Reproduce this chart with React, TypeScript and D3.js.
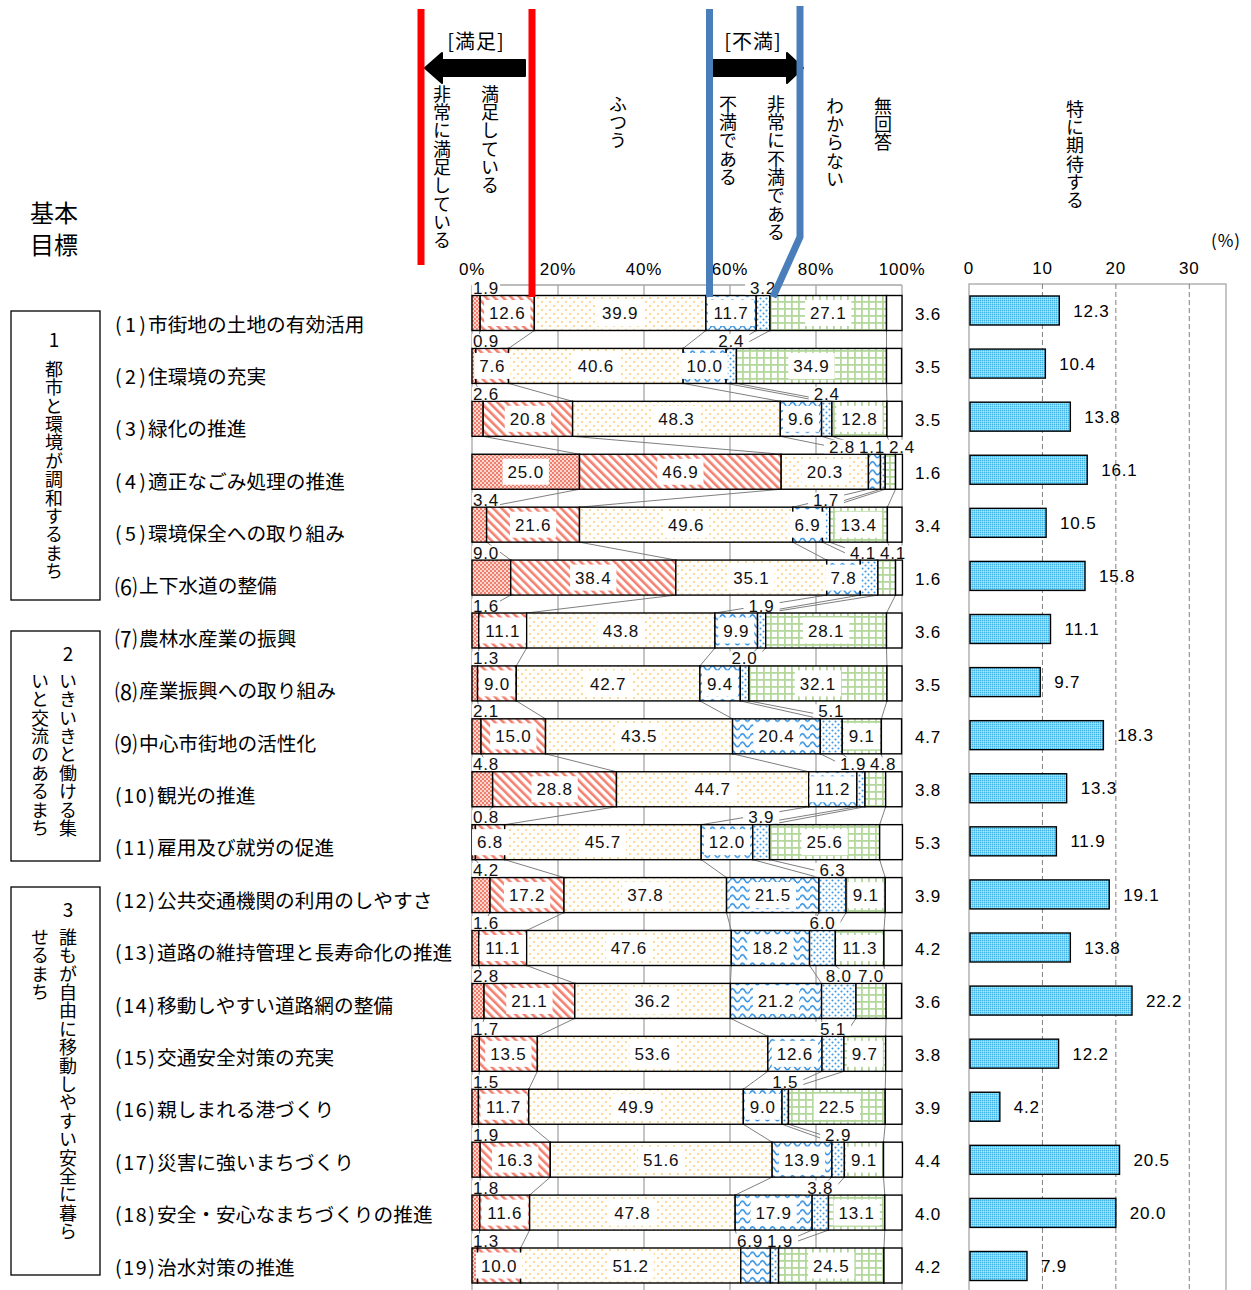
import React from "react";
import * as d3 from "d3";

const FONT = "'Noto Sans CJK JP', 'Noto Sans', sans-serif";
const NFONT = "'Liberation Sans', Arial, sans-serif";

// ---- data ----
const itemPrefixes = ["(1)", "(2)", "(3)", "(4)", "(5)", "⑹", "⑺", "⑻", "⑼", "(10)", "(11)", "(12)", "(13)", "(14)", "(15)", "(16)", "(17)", "(18)", "(19)"];
const itemNames = [
  "市街地の土地の有効活用",
  "住環境の充実",
  "緑化の推進",
  "適正なごみ処理の推進",
  "環境保全への取り組み",
  "上下水道の整備",
  "農林水産業の振興",
  "産業振興への取り組み",
  "中心市街地の活性化",
  "観光の推進",
  "雇用及び就労の促進",
  "公共交通機関の利用のしやすさ",
  "道路の維持管理と長寿命化の推進",
  "移動しやすい道路網の整備",
  "交通安全対策の充実",
  "親しまれる港づくり",
  "災害に強いまちづくり",
  "安全・安心なまちづくりの推進",
  "治水対策の推進",
];
const verySatisfied = [1.9, 0.9, 2.6, 25.0, 3.4, 9.0, 1.6, 1.3, 2.1, 4.8, 0.8, 4.2, 1.6, 2.8, 1.7, 1.5, 1.9, 1.8, 1.3];
const satisfied = [12.6, 7.6, 20.8, 46.9, 21.6, 38.4, 11.1, 9.0, 15.0, 28.8, 6.8, 17.2, 11.1, 21.1, 13.5, 11.7, 16.3, 11.6, 10.0];
const neutral = [39.9, 40.6, 48.3, 20.3, 49.6, 35.1, 43.8, 42.7, 43.5, 44.7, 45.7, 37.8, 47.6, 36.2, 53.6, 49.9, 51.6, 47.8, 51.2];
const dissatisfied = [11.7, 10.0, 9.6, 2.8, 6.9, 7.8, 9.9, 9.4, 20.4, 11.2, 12.0, 21.5, 18.2, 21.2, 12.6, 9.0, 13.9, 17.9, 6.9];
const veryDissatisfied = [3.2, 2.4, 2.4, 1.1, 1.7, 4.1, 1.9, 2.0, 5.1, 1.9, 3.9, 6.3, 6.0, 8.0, 5.1, 1.5, 2.9, 3.8, 1.9];
const dontKnow = [27.1, 34.9, 12.8, 2.4, 13.4, 4.1, 28.1, 32.1, 9.1, 4.8, 25.6, 9.1, 11.3, 7.0, 9.7, 22.5, 9.1, 13.1, 24.5];
const noAnswer = [3.6, 3.5, 3.5, 1.6, 3.4, 1.6, 3.6, 3.5, 4.7, 3.8, 5.3, 3.9, 4.2, 3.6, 3.8, 3.9, 4.4, 4.0, 4.2];
const expectation = [12.3, 10.4, 13.8, 16.1, 10.5, 15.8, 11.1, 9.7, 18.3, 13.3, 11.9, 19.1, 13.8, 22.2, 12.2, 4.2, 20.5, 20.0, 7.9];

const seriesNames = ["非常に満足している", "満足している", "ふつう", "不満である", "非常に不満である", "わからない", "無回答"];
const expectName = "特に期待する";
const leftTicks = [0, 20, 40, 60, 80, 100];
const rightTicks = [0, 10, 20, 30];
const groupNums = ["1", "2", "3"];
const groupCols = [["都市と環境が調和するまち"], ["いきいきと働ける集", "いと交流のあるまち"], ["誰もが自由に移動しやすい安全に暮ら", "せるまち"]];

const fills = ["url(#pVS)", "url(#pS)", "url(#pN)", "url(#pD)", "url(#pVD)", "url(#pDK)", "#ffffff"];

const LFS = 17;
const LSP = 0.8;
function textW(s: string, fs: number) {
  let w = 0;
  for (const c of s) w += (c === "." ? 0.278 * fs : 0.556 * fs) + LSP;
  return w;
}

function VText({ text, x, top, pitch, fs }: { text: string; x: number; top: number; pitch: number; fs: number }) {
  return (
    <text x={x} y={top} fontSize={fs} fontFamily={FONT} fill="#000" letterSpacing={pitch - fs}
      style={{ writingMode: "vertical-rl" as any }}>
      {text}
    </text>
  );
}

export default function App() {
  const W = 1251, H = 1290;
  const n = itemNames.length;
  const idx = d3.range(n);
  const xL = d3.scaleLinear().domain([0, 100]).range([472, 902]);
  const xR = d3.scaleLinear().domain([0, 35]).range([969, 1226]);
  const yRow = d3.scalePoint<number>().domain(idx).range([313, 1265.5]);
  const yLab = d3.scalePoint<number>().domain(idx).range([323, 1266]);
  const yRbar = d3.scalePoint<number>().domain(idx).range([310.5, 1266]);
  const barH = 35;
  const rBarH = 29;

  const table = idx.map((i) => ({
    0: verySatisfied[i], 1: satisfied[i], 2: neutral[i], 3: dissatisfied[i],
    4: veryDissatisfied[i], 5: dontKnow[i], 6: noAnswer[i],
  }));
  const stack = d3.stack<any>().keys(["0", "1", "2", "3", "4", "5", "6"])(table as any);

  // series lines
  const seriesLines: { x1: number; y1: number; x2: number; y2: number }[] = [];
  for (let i = 0; i < n - 1; i++) {
    for (let k = 0; k < 6; k++) {
      seriesLines.push({
        x1: xL(stack[k][i][1]), y1: yRow(i)! + barH / 2,
        x2: xL(stack[k][i + 1][1]), y2: yRow(i + 1)! - barH / 2,
      });
    }
  }

  // labels
  type Lab = { x: number; y: number; t: string; anchor: string; above: boolean };
  const labels: Lab[] = [];
  idx.forEach((i) => {
    const cy = yRow(i)!;
    const top = cy - barH / 2;
    const aboveY = top - 1.5;
    const above: { x: number; t: string }[] = [];
    for (let k = 0; k < 6; k++) {
      const [a, b] = stack[k][i];
      const v = b - a;
      const t = v.toFixed(1);
      const c = (xL(a) + xL(b)) / 2;
      let isAbove = false;
      if (k === 0) isAbove = v < 10;
      else if (k === 3) isAbove = v < 6.9 || i === n - 1;
      else if (k === 4) isAbove = true;
      else if (k === 5) isAbove = v < 8;
      if (k === 0 && isAbove) {
        labels.push({ x: xL(0) + 1, y: aboveY, t, anchor: "start", above: true });
      } else if (isAbove) {
        above.push({ x: c, t });
      } else {
        labels.push({ x: c, y: cy + 0.36 * LFS, t, anchor: "middle", above: false });
      }
    }
    const gap = 30;
    for (let it = 0; it < 60; it++) {
      for (let j = 1; j < above.length; j++) {
        const ov = gap - (above[j].x - above[j - 1].x);
        if (ov > 0) { above[j].x += ov / 2; above[j - 1].x -= ov / 2; }
      }
    }
    if (above.length) {
      const last = above[above.length - 1];
      if (last.x > xL(100)) last.x = xL(100);
      for (let j = above.length - 2; j >= 0; j--) above[j].x = Math.min(above[j].x, above[j + 1].x - gap);
    }
    above.forEach((a) => labels.push({ x: a.x, y: aboveY, t: a.t, anchor: "middle", above: true }));
  });

  // group box extents (layout)
  const boxes = [[311, 600], [631, 861], [887, 1275]];

  return (
    <div style={{ position: "absolute", left: 0, top: 0 }}>
      <svg width={W} height={H} viewBox={`0 0 ${W} ${H}`} style={{ display: "block", background: "#fff" }}>
        <defs>
          <pattern id="pVS" width="4" height="4" patternUnits="userSpaceOnUse">
            <rect width="4" height="4" fill="#fcd6cf" />
            <rect width="2" height="2" fill="#ef7f6d" />
            <rect x="2" y="2" width="2" height="2" fill="#ef7f6d" />
          </pattern>
          <pattern id="pS" width="6" height="6" patternUnits="userSpaceOnUse" patternTransform="rotate(-45)">
            <rect width="6" height="6" fill="#fff" />
            <rect width="2.6" height="6" fill="#f3806f" />
          </pattern>
          <pattern id="pN" width="8" height="8" patternUnits="userSpaceOnUse">
            <rect width="8" height="8" fill="#fffefa" />
            <circle cx="2" cy="2" r="1.05" fill="#fcd285" />
            <circle cx="6" cy="6" r="1.05" fill="#fcd285" />
          </pattern>
          <pattern id="pD" width="10" height="8.5" patternUnits="userSpaceOnUse">
            <rect width="10" height="8.5" fill="#fff" />
            <path d="M0,5 Q2.5,0.5 5,5 T10,5" fill="none" stroke="#2f8fe0" strokeWidth="1.6" />
          </pattern>
          <pattern id="pVD" width="6" height="6" patternUnits="userSpaceOnUse">
            <rect width="6" height="6" fill="#fff" />
            <circle cx="1.5" cy="1.5" r="1.05" fill="#3d97e2" />
            <circle cx="4.5" cy="4.5" r="1.05" fill="#3d97e2" />
          </pattern>
          <pattern id="pDK" width="7" height="7" patternUnits="userSpaceOnUse">
            <rect width="7" height="7" fill="#fff" />
            <rect width="1.8" height="7" fill="#b4d89c" />
            <rect width="7" height="1.8" fill="#b4d89c" />
          </pattern>
          <pattern id="pR" width="2" height="2" patternUnits="userSpaceOnUse">
            <rect width="2" height="2" fill="#7dd4f5" />
            <rect width="1" height="1" fill="#3fb3e6" />
            <rect x="1" y="1" width="1" height="1" fill="#a9e3f9" />
          </pattern>
        </defs>

        {/* title */}
        <text x={30} y={211} dominantBaseline="central" fontSize={24} fontFamily={FONT}>基本</text>
        <text x={30} y={243} dominantBaseline="central" fontSize={24} fontFamily={FONT}>目標</text>

        {/* header brackets */}
        <text x={476} y={40} textAnchor="middle" dominantBaseline="central" fontSize={20} fontFamily={FONT} letterSpacing={1}>[満足]</text>
        <text x={753} y={40} textAnchor="middle" dominantBaseline="central" fontSize={20} fontFamily={FONT} letterSpacing={1}>[不満]</text>
        {/* arrows */}
        <path d="M525,60 L442,60 L442,53 L425,68 L442,83 L442,76 L525,76 Z" fill="#000" stroke="#000" strokeWidth={2} strokeLinejoin="round" />
        <path d="M711,60 L787,60 L787,53 L803,68 L787,83 L787,76 L711,76 Z" fill="#000" stroke="#000" strokeWidth={2} strokeLinejoin="round" />

        {/* header vertical series names */}
        <VText text={seriesNames[0]} x={442} top={85} pitch={18.3} fs={18} />
        <VText text={seriesNames[1]} x={490} top={85} pitch={18.3} fs={18} />
        <VText text={seriesNames[2]} x={618} top={95} pitch={18.3} fs={18} />
        <VText text={seriesNames[3]} x={728} top={95} pitch={18.3} fs={18} />
        <VText text={seriesNames[4]} x={776} top={95} pitch={18.3} fs={18} />
        <VText text={seriesNames[5]} x={835} top={97} pitch={18.3} fs={18} />
        <VText text={seriesNames[6]} x={883} top={97} pitch={18.3} fs={18} />
        <VText text={expectName} x={1075} top={100} pitch={18.3} fs={18} />

        {/* left axis tick labels */}
        {leftTicks.map((t) => (
          <text key={t} x={xL(t)} y={275} textAnchor="middle" fontSize={17} fontFamily={NFONT} letterSpacing={LSP}>{t}%</text>
        ))}
        {/* right axis tick labels */}
        {rightTicks.map((t) => (
          <text key={t} x={xR(t)} y={274} textAnchor="middle" fontSize={17} fontFamily={NFONT} letterSpacing={LSP}>{t}</text>
        ))}
        <text x={1226} y={247} textAnchor="middle" fontSize={17} fontFamily={FONT} letterSpacing={1}>(%)</text>

        {/* left grid */}
        <line x1={xL(0)} x2={xL(100)} y1={285} y2={285} stroke="#a6a6a6" strokeWidth={1.3} />
        {leftTicks.map((t) => (
          <line key={t} x1={xL(t)} x2={xL(t)} y1={285} y2={H} stroke="#a6a6a6" strokeWidth={1.3} />
        ))}

        {/* right frame & grid */}
        <rect x={xR(0)} y={284} width={xR(35) - xR(0)} height={H} fill="none" stroke="#a6a6a6" strokeWidth={1.3} />
        {rightTicks.slice(1).map((t) => (
          <line key={t} x1={xR(t)} x2={xR(t)} y1={284} y2={H} stroke="#7f7f7f" strokeWidth={1} strokeDasharray="5,3" />
        ))}

        {/* series lines */}
        {seriesLines.map((l, j) => (
          <line key={j} x1={l.x1} y1={l.y1} x2={l.x2} y2={l.y2} stroke="#7f7f7f" strokeWidth={1} />
        ))}

        {/* stacked bars */}
        {stack.map((s, k) => (
          <g key={k}>
            {s.map((d, i) => (
              <rect key={i} x={xL(d[0])} y={yRow(i)! - barH / 2} width={xL(d[1]) - xL(d[0])} height={barH}
                fill={fills[k]} stroke="#000" strokeWidth={1.4} />
            ))}
          </g>
        ))}

        {/* segment labels */}
        {labels.map((l, j) => {
          const w = textW(l.t, LFS);
          const bx = l.anchor === "start" ? l.x - 1 : l.x - w / 2 - 5;
          return (
            <g key={j}>
              {l.above ? (
                <rect x={bx} y={l.y - 13} width={w + (l.anchor === "start" ? 2 : 10)} height={13.5} fill="#fff" />
              ) : (
                <rect x={bx} y={l.y - 0.36 * LFS - 13} width={w + 10} height={26} fill="#fff" />
              )}
              <text x={l.x} y={l.y} textAnchor={l.anchor as any} fontSize={LFS} fontFamily={NFONT} fill="#111" letterSpacing={LSP}>{l.t}</text>
            </g>
          );
        })}

        {/* no answer values */}
        {idx.map((i) => (
          <text key={i} x={928} y={yRow(i)! + 1 + 0.36 * LFS} textAnchor="middle" fontSize={LFS} fontFamily={NFONT} letterSpacing={LSP}>{noAnswer[i].toFixed(1)}</text>
        ))}

        {/* right bars */}
        {idx.map((i) => (
          <g key={i}>
            <rect x={xR(0) + 1} y={yRbar(i)! - rBarH / 2} width={xR(expectation[i]) - xR(0) - 1} height={rBarH}
              fill="url(#pR)" stroke="#000" strokeWidth={1.4} />
            <text x={xR(expectation[i]) + 14} y={yRbar(i)! + 0.36 * LFS} fontSize={LFS} fontFamily={NFONT} letterSpacing={LSP}>{expectation[i].toFixed(1)}</text>
          </g>
        ))}

        {/* item labels */}
        {idx.map((i) => {
          const p = itemPrefixes[i];
          const single = p.length === 1;
          const mainX = single ? 139 : p.length === 3 ? 148 : 157;
          return (
            <g key={i}>
              {single ? (
                <text x={115} y={yLab(i)} dominantBaseline="central" fontSize={22} fontFamily={FONT}>{p}</text>
              ) : (
                <text x={115} y={yLab(i)} dominantBaseline="central" fontSize={19.7} fontFamily={FONT}
                  textLength={mainX - 117} lengthAdjust="spacing">{p}</text>
              )}
              <text x={mainX} y={yLab(i)} dominantBaseline="central" fontSize={19.7} fontFamily={FONT}>{itemNames[i]}</text>
            </g>
          );
        })}

        {/* group boxes */}
        {boxes.map(([top, bottom], gi) => {
          const cols = groupCols[gi];
          const two = cols.length > 1;
          const nx = two ? 68 : 54;
          return (
            <g key={gi}>
              <rect x={11} y={top} width={89} height={bottom - top} fill="none" stroke="#000" strokeWidth={1.3} />
              <text x={nx} y={top + (two ? 21 : 27)} textAnchor="middle" dominantBaseline="central" fontSize={19} fontFamily={FONT}>{groupNums[gi]}</text>
              {cols.map((c, ci) => (
                <VText key={ci} text={c} x={two ? 68 - ci * 28 : 54} top={top + (two ? 41 : 49)} pitch={18.4} fs={18} />
              ))}
            </g>
          );
        })}

        {/* red / blue guide lines */}
        <line x1={421} x2={421} y1={9} y2={265} stroke="#ff0000" strokeWidth={7} />
        <line x1={532} x2={532} y1={9} y2={297} stroke="#ff0000" strokeWidth={7} />
        <line x1={709.5} x2={709.5} y1={9} y2={297} stroke="#4a7ebb" strokeWidth={7} />
        <polyline points="800,6 800,237 773,297" fill="none" stroke="#4a7ebb" strokeWidth={7} />
      </svg>
    </div>
  );
}
